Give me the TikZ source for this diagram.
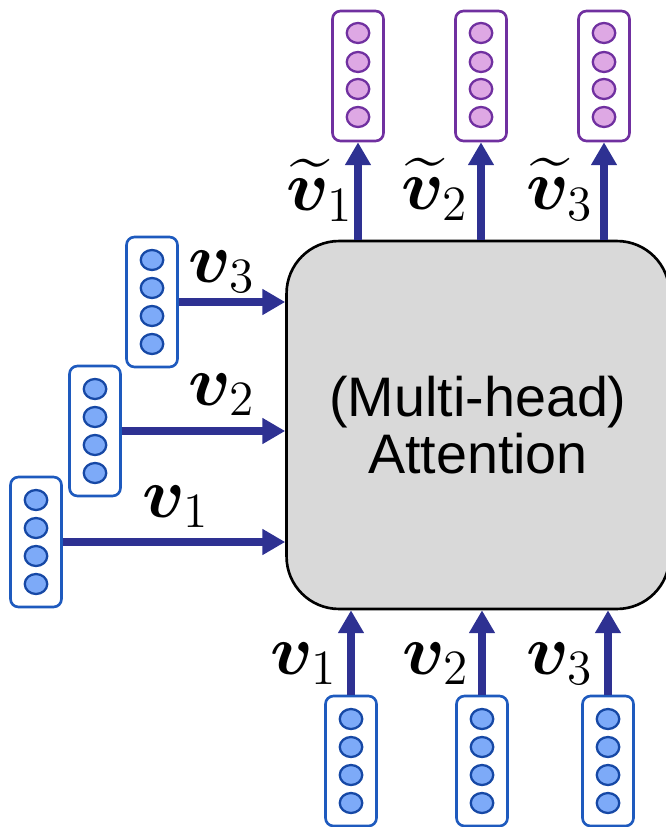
\documentclass[tikz,border=0pt]{standalone}
\usepackage{fontspec}
\usepackage{amsmath,bm}
\usetikzlibrary{arrows.meta,shapes.geometric,positioning}
\newfontfamily\arialfont{Liberation Sans}

\definecolor{flowblue}{RGB}{46,49,146}
\definecolor{vecblue}{RGB}{30,90,190}
\definecolor{unitblue}{RGB}{125,170,248}
\definecolor{unitedge}{RGB}{22,72,165}
\definecolor{vecpurple}{RGB}{112,48,160}
\definecolor{unitpink}{RGB}{222,168,228}
\definecolor{attngray}{RGB}{217,217,217}

\begin{document}
\begin{tikzpicture}[x=0.02cm, y=-0.02cm]
            \tikzstyle{vecbox}=[draw=vecblue, rounded corners=0.16cm, line width=1.5pt,
                minimum width=1.02cm, minimum height=2.6cm, inner sep=0pt]
            \tikzstyle{outbox}=[vecbox, draw=vecpurple]
            \tikzstyle{unit}=[ellipse, draw=unitedge, fill=unitblue, line width=1.3pt,
                minimum width=0.45cm, minimum height=0.4cm, inner sep=0pt]
            \tikzstyle{outunit}=[unit, draw=vecpurple, fill=unitpink]
            \tikzstyle{attn}=[draw, fill=attngray, rounded corners=1.05cm, line width=1.5pt,
                minimum width=7.66cm, minimum height=7.36cm, align=center,
                font=\arialfont\fontsize{31.7}{32.9}\selectfont]
            \tikzstyle{flow}=[draw=flowblue, line width=4.5pt,
                -{Triangle[width=14pt,length=13pt]}]
            \tikzstyle{vlabel}=[anchor=base, inner sep=0pt, font=\huge, scale=1.95]

            \useasboundingbox (0,0) rectangle (665,827);

            % the attention block
            \node[attn]     (attn)  at (478,425)    {(Multi-head)\\Attention};

            % input vectors, bottom row and left staircase
            \foreach \nm/\px/\py in {in1/351/761, in2/482/761, in3/608/761,
                                     lv1/36/542, lv2/95/431, lv3/152/302}{
                \node[vecbox]   (\nm)   at (\px,\py)    {};
                \foreach \dy [count=\k] in {-42,-14,14,42}
                    \node[unit] (\nm c\k) at (\px,{\py+(\dy)}) {};
            }

            % output vectors
            \foreach \nm/\px in {out1/358, out2/481, out3/604}{
                \node[outbox]   (\nm)   at (\px,76)     {};
                \foreach \dy [count=\k] in {-43,-14,13,41}
                    \node[outunit] (\nm c\k) at (\px,{76+(\dy)}) {};
            }

            % arrows into and out of the block
            \foreach \nm in {in1,in2,in3}
                \path[flow] (\nm.north) -- (\nm.north |- attn.south);
            \foreach \nm in {lv1,lv2,lv3}
                \path[flow] (\nm.east) -- (\nm.east -| attn.west);
            \foreach \nm in {out1,out2,out3}
                \path[flow] (\nm.south |- attn.north) -- (\nm.south);

            % labels
            \node[vlabel]   (lin1)  at (304,674)    {$\bm{v}_1$};
            \node[vlabel]   (lin2)  at (436,674)    {$\bm{v}_2$};
            \node[vlabel]   (lin3)  at (560,674)    {$\bm{v}_3$};
            \node[vlabel]   (llv1)  at (176,517)    {$\bm{v}_1$};
            \node[vlabel]   (llv2)  at (222,405)    {$\bm{v}_2$};
            \node[vlabel]   (llv3)  at (222,282)    {$\bm{v}_3$};
            \node[vlabel]   (lout1) at (320,211)    {$\widetilde{\bm{v}}_1$};
            \node[vlabel]   (lout2) at (435,210)    {$\widetilde{\bm{v}}_2$};
            \node[vlabel]   (lout3) at (560,210)    {$\widetilde{\bm{v}}_3$};
\end{tikzpicture}
\end{document}
